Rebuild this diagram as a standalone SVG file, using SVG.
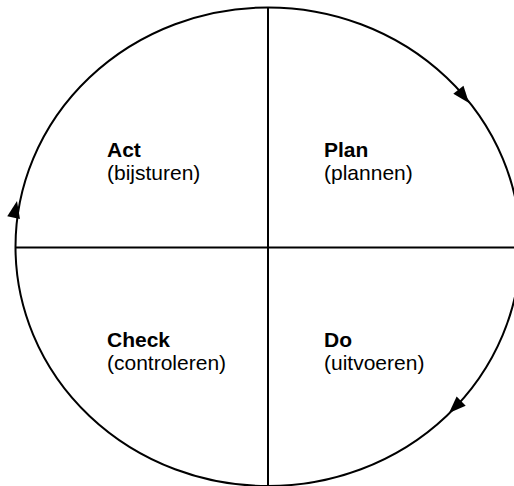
<svg xmlns="http://www.w3.org/2000/svg" width="514" height="486" viewBox="0 0 514 486">
<style>
.ln{stroke:#000;stroke-width:2;fill:none}
.t{font-family:"Liberation Sans",Arial,sans-serif;font-size:21px;fill:#000}
.b{font-weight:bold}
</style>
<defs>
<polygon id="ah" points="0,0 -17,-6.5 -17,6.5" fill="#000"/>
</defs>
<rect width="514" height="486" fill="#fff"/>
<g id="connectors">
<ellipse class="ln" cx="268" cy="246.75" rx="252.5" ry="239.25"/>
<line class="ln" x1="268" y1="7.5" x2="268" y2="486"/>
<line class="ln" x1="15.5" y1="247.5" x2="514" y2="247.5"/>
<use href="#ah" transform="translate(469,103) rotate(51.4)"/>
<use href="#ah" transform="translate(449,413) rotate(135.7)"/>
<use href="#ah" transform="translate(17,201) rotate(-78.5)"/>
</g>
<g id="act"><text class="t b" x="107" y="157">Act</text><text class="t" x="107" y="180">(bijsturen)</text></g>
<g id="plan"><text class="t b" x="324" y="157">Plan</text><text class="t" x="324" y="180">(plannen)</text></g>
<g id="check"><text class="t b" x="107" y="347">Check</text><text class="t" x="107" y="370">(controleren)</text></g>
<g id="do"><text class="t b" x="324" y="347">Do</text><text class="t" x="324" y="370">(uitvoeren)</text></g>
</svg>
